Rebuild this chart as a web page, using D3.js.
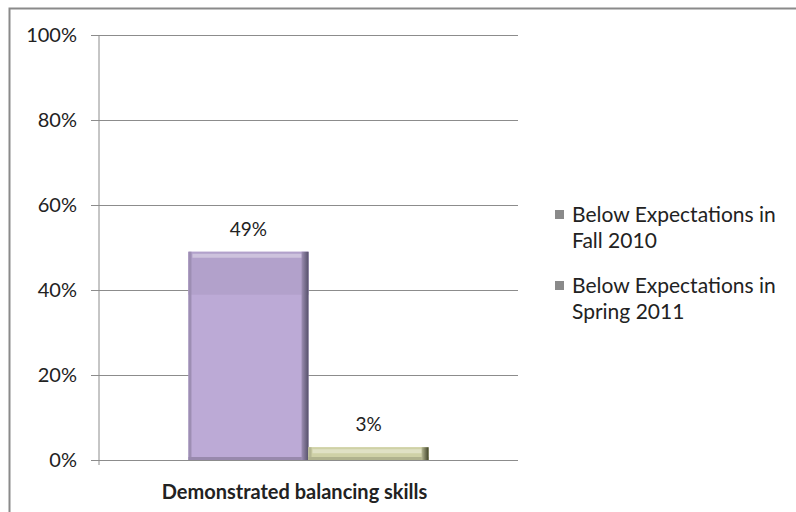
<!DOCTYPE html>
<html>
<head>
<meta charset="utf-8">
<script src="https://cdn.jsdelivr.net/npm/d3@7"></script>
<style>
  body { margin: 0; background: #fff; }
  svg { display: block; }
  text { font-family: Lato, "Open Sans", sans-serif; fill: #222; }
</style>
</head>
<body>
<svg id="chart" width="796" height="512"></svg>
<script>
// Share of students below expectations, by term
const categories = ["Demonstrated balancing skills"];
const seriesNames = ["Below Expectations in Fall 2010", "Below Expectations in Spring 2011"];
const fall2010 = [0.49];
const spring2011 = [0.03];
const yTicks = [0, 0.2, 0.4, 0.6, 0.8, 1.0];

const seriesValues = [fall2010, spring2011];
const seriesColors = ["#bcaad6", "#dadcb0"];
const edgeColors = ["#55506a", "#3f4228"];

const svg = d3.select("#chart");
const defs = svg.append("defs");

// Outer frame of the chart area
svg.append("rect")
  .attr("x", 9.5).attr("y", 8.5).attr("width", 800).attr("height", 520)
  .attr("fill", "#fff").attr("stroke", "#8a8a8a").attr("stroke-width", 2);

const plot = { left: 99, right: 518, top: 35, bottom: 460 };

const y = d3.scaleLinear().domain([0, 1]).range([plot.bottom, plot.top]);
const x0 = d3.scaleBand().domain(categories).range([plot.left, plot.right]).padding(0);
const x1 = d3.scaleBand().domain(d3.range(seriesNames.length))
  .range([0, x0.bandwidth()]).paddingInner(0).paddingOuter(0.745);

// Gridlines + left ticks
const yAxis = d3.axisLeft(y)
  .tickValues(yTicks)
  .tickSize(-(plot.right - plot.left))
  .tickPadding(22)
  .tickFormat(d3.format(".0%"));

const gy = svg.append("g")
  .attr("transform", `translate(${plot.left},0)`)
  .call(yAxis);
gy.select(".domain").remove();
gy.selectAll(".tick line").attr("stroke", "#8c8c8c").attr("x1", -8);
gy.selectAll(".tick text")
  .attr("font-size", 20).attr("fill", "#222")
  .style("font-family", "Lato, 'Open Sans', sans-serif");

// Vertical axis line
svg.append("line")
  .attr("x1", plot.left).attr("x2", plot.left)
  .attr("y1", plot.top).attr("y2", plot.bottom + 5)
  .attr("stroke", "#8c8c8c");

// Bevel gradients for each series
seriesColors.forEach((c, i) => {
  const g = defs.append("linearGradient").attr("id", "side" + i)
    .attr("x1", 0).attr("x2", 1).attr("y1", 0).attr("y2", 0);
  g.append("stop").attr("offset", "0%").attr("stop-color", d3.color(c).darker(0.5));
  g.append("stop").attr("offset", "100%").attr("stop-color", edgeColors[i]);
});

const cat = svg.selectAll("g.cat")
  .data(categories)
  .join("g").attr("class", "cat")
  .attr("transform", d => `translate(${x0(d)},0)`);

seriesValues.forEach((vals, si) => {
  vals.forEach((v, ci) => {
    const g = cat.filter((d, i) => i === ci);
    const bx = x1(si), bw = x1.bandwidth();
    const by = y(v), bh = y(0) - y(v);
    const edge = Math.min(7, bw * 0.06);
    // main face
    g.append("rect")
      .attr("x", bx).attr("y", by).attr("width", bw).attr("height", bh)
      .attr("fill", seriesColors[si]);
    // upper gloss band
    g.append("rect")
      .attr("x", bx).attr("y", by).attr("width", bw).attr("height", Math.min(bh, 43))
      .attr("fill", d3.color(seriesColors[si]).darker(0.15));
    g.append("rect")
      .attr("x", bx + 4).attr("y", by + 2).attr("width", bw - 10).attr("height", Math.min(bh / 3, 4))
      .attr("fill", "#fff").attr("opacity", 0.35);
    // left soft edge
    g.append("rect")
      .attr("x", bx).attr("y", by).attr("width", 3).attr("height", bh)
      .attr("fill", d3.color(seriesColors[si]).darker(0.5));
    // bottom shade
    g.append("rect")
      .attr("x", bx).attr("y", y(0) - Math.min(bh / 3, 3)).attr("width", bw).attr("height", Math.min(bh / 3, 3))
      .attr("fill", d3.color(seriesColors[si]).darker(0.6));
    // right dark bevel
    g.append("rect")
      .attr("x", bx + bw - edge).attr("y", by).attr("width", edge).attr("height", bh)
      .attr("fill", `url(#side${si})`);
    // value label
    g.append("text")
      .attr("x", bx + bw / 2).attr("y", by - 16)
      .attr("text-anchor", "middle")
      .attr("font-size", 19).attr("fill", "#333")
      .text(d3.format(".0%")(v));
  });
});

// Category label
cat.append("text")
  .attr("x", x0.bandwidth() / 2 - 14).attr("y", 499)
  .attr("text-anchor", "middle")
  .attr("font-size", 20).attr("font-weight", "bold").attr("fill", "#111")
  .text(d => d);

// Legend
const legend = svg.append("g").attr("transform", "translate(555,215)");
seriesNames.forEach((name, i) => {
  const gi = legend.append("g").attr("transform", `translate(0,${i * 71})`);
  gi.append("rect").attr("x", 0).attr("y", -5).attr("width", 9).attr("height", 9)
    .attr("fill", "#8a8a8a");
  const words = name.split(" ");
  const line1 = words.slice(0, 3).join(" ");
  const line2 = words.slice(3).join(" ");
  const t = gi.append("text").attr("x", 17).attr("y", 0).attr("dy", "0.35em")
    .attr("font-size", 21).attr("fill", "#222");
  t.append("tspan").attr("x", 17).text(line1);
  t.append("tspan").attr("x", 17).attr("dy", 26).text(line2);
});
</script>
</body>
</html>
